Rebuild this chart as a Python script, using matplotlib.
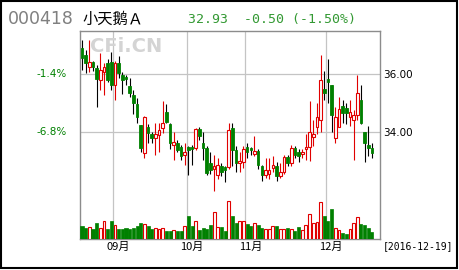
import numpy as np
import matplotlib.pyplot as plt
import matplotlib.transforms as mtransforms
from matplotlib.patches import Rectangle

# Данные: дневные свечи 小天鹅Ａ (000418), 19.08.2016 - 19.12.2016
opens = [36.88, 36.64, 36.22, 36.40, 36.20, 35.78, 36.06, 36.36, 36.40, 35.60,
         36.36, 35.95, 35.88, 35.57, 35.26, 34.95, 34.22, 33.26, 34.15, 33.90,
         33.78, 33.88, 34.12, 34.67, 34.26, 33.53, 33.60, 33.46, 33.20, 33.46,
         33.45, 33.43, 34.09, 33.60, 33.43, 32.90, 32.72, 32.50, 32.80, 32.78,
         32.78, 34.12, 33.36, 32.90, 32.95, 33.46, 33.43, 33.22, 33.33, 32.82,
         32.50, 32.53, 32.75, 32.82, 32.45, 32.60, 33.12, 32.90, 33.43, 33.30,
         33.23, 33.40, 33.46, 33.80, 34.16, 34.40, 35.47, 35.81, 35.60, 33.78,
         34.16, 34.88, 34.80, 34.50, 34.40, 34.57, 35.09, 33.98, 33.53, 33.43]
highs = [37.15, 36.81, 37.15, 36.45, 36.30, 36.70, 36.35, 36.50, 36.75, 36.45,
         36.60, 36.05, 35.95, 35.85, 35.45, 35.15, 34.22, 34.55, 34.25, 34.00,
         34.30, 34.30, 35.05, 34.95, 34.30, 34.00, 33.70, 33.55, 33.60, 33.50,
         33.55, 34.12, 34.15, 34.00, 33.50, 33.30, 33.20, 33.10, 32.90, 32.80,
         34.30, 34.30, 33.50, 33.30, 33.50, 33.60, 33.45, 33.85, 33.40, 32.85,
         33.10, 33.10, 33.15, 32.95, 32.90, 33.20, 33.20, 33.55, 33.50, 33.40,
         33.40, 33.90, 35.05, 34.40, 35.00, 36.64, 36.10, 36.50, 35.60, 34.85,
         35.20, 35.10, 35.00, 35.10, 34.75, 35.95, 35.60, 34.00, 34.20, 33.60]
lows = [36.12, 36.02, 36.05, 36.10, 34.86, 35.43, 35.26, 35.70, 35.45, 35.10,
        35.85, 35.30, 35.60, 35.20, 34.60, 34.30, 33.30, 33.10, 33.60, 33.60,
        33.20, 33.30, 33.95, 34.30, 33.40, 33.00, 33.30, 33.00, 32.85, 32.50,
        32.85, 33.35, 33.70, 33.00, 32.50, 32.55, 31.95, 32.35, 32.45, 32.25,
        32.70, 32.80, 32.60, 32.60, 32.75, 33.10, 33.20, 33.15, 32.70, 32.28,
        32.40, 32.35, 32.60, 32.30, 32.40, 32.55, 32.80, 32.80, 33.10, 32.95,
        33.10, 33.00, 32.98, 33.50, 33.90, 34.00, 35.10, 35.00, 34.00, 33.60,
        34.15, 34.30, 34.25, 34.20, 33.00, 34.40, 34.25, 32.95, 33.15, 33.10]
closes = [36.53, 36.36, 36.40, 36.22, 35.80, 36.12, 36.22, 35.78, 35.60, 36.36,
          36.02, 35.78, 35.81, 35.33, 34.98, 34.50, 33.43, 34.50, 33.95, 33.78,
          33.92, 34.05, 34.30, 34.33, 33.60, 33.64, 33.36, 33.16, 33.30, 33.36,
          33.38, 34.09, 33.85, 33.43, 32.57, 32.67, 32.82, 32.84, 32.60, 32.67,
          34.05, 33.36, 32.90, 32.98, 33.40, 33.30, 33.36, 33.33, 32.85, 32.50,
          32.67, 32.67, 32.85, 32.45, 32.62, 33.12, 32.90, 33.43, 33.19, 33.15,
          33.30, 33.46, 33.98, 33.90, 34.50, 35.78, 35.33, 35.71, 34.57, 34.50,
          34.78, 34.64, 34.64, 34.67, 34.57, 35.33, 34.30, 33.60, 33.43, 33.26]
volumes = [40, 33, 36, 30, 48, 33, 55, 31, 55, 43,
           30, 30, 32, 30, 33, 38, 48, 45, 38, 30,
           33, 30, 33, 25, 25, 26, 25, 25, 40, 68,
           38, 55, 28, 33, 30, 43, 80, 35, 35, 25,
           115, 70, 48, 53, 55, 45, 38, 48, 43, 33,
           30, 30, 40, 40, 30, 30, 33, 30, 25, 35,
           28, 43, 75, 48, 50, 111, 70, 55, 90, 33,
           28, 18, 15, 30, 48, 65, 45, 43, 33, 20]

# торговых дней в каждом месяце (авг. - только хвост)
month_days = [9, 20, 16, 22, 13]
month_names = ['09月', '10月', '11月', '12月']

red = '#e00000'
green = '#008000'
n = len(closes)
x = np.arange(n)
o = np.array(opens)
c = np.array(closes)
up = c >= o

fig = plt.figure(figsize=(4.6, 2.7), dpi=100)
ax = fig.add_axes([80 / 460, 31 / 270, 300 / 460, 208 / 270])
ax.set_xlim(-0.55, 81.2)
ax.set_ylim(30.29, 37.47)

# Объём (отдельная ось поверх нижней части)
axv = ax.twinx()
axv.set_ylim(0, 624)
axv.set_axis_off()

# Сетка: границы месяцев и уровни цены
bounds = np.cumsum(month_days)[:-1] - 0.5
ax.set_xticks(bounds, month_names)
ax.set_yticks([34, 36])
ax.yaxis.tick_right()
ax.yaxis.set_major_formatter(plt.FormatStrFormatter('%.2f'))
ax.tick_params(length=0, labelsize=7.5)
ax.tick_params(axis='y', pad=2, labelleft=False, labelright=True)
ax.tick_params(axis='x', pad=2)
ax.grid(color='#c4c4c4', linewidth=0.9)
ax.set_axisbelow(True)
for s in ax.spines.values():
    s.set_color('#8c8c8c')
    s.set_linewidth(1.0)
offset = mtransforms.ScaledTranslation(0.05, 0, fig.dpi_scale_trans)
for lbl in ax.get_xticklabels():
    lbl.set_family(['Noto Sans CJK SC', 'DejaVu Sans'])
    lbl.set_fontsize(8)
    lbl.set_transform(lbl.get_transform() + offset)

# Свечи
ax.vlines(x[up], np.array(lows)[up], np.array(highs)[up], color=red, linewidth=0.8, zorder=2)
ax.vlines(x[~up], np.array(lows)[~up], np.array(highs)[~up], color='black', linewidth=0.8, zorder=2)
body_h = np.maximum(np.abs(c - o), 0.03)
body_b = np.minimum(o, c)
ax.bar(x[up], body_h[up], bottom=body_b[up], width=0.72, facecolor='white',
       edgecolor=red, linewidth=0.8, zorder=3)
ax.bar(x[~up], body_h[~up], bottom=body_b[~up], width=0.72, facecolor=green,
       edgecolor=green, linewidth=0.6, zorder=3)

# Проценты слева
tr = mtransforms.blended_transform_factory(ax.transAxes, ax.transData)
ax.text(-0.043, 36, '-1.4%', transform=tr, ha='right', va='center', color=green, fontsize=7.5)
ax.text(-0.043, 34, '-6.8%', transform=tr, ha='right', va='center', color=green, fontsize=7.5)

v = np.array(volumes)
axv.bar(x[up], v[up], width=0.75, facecolor='white', edgecolor=red, linewidth=0.8)
axv.bar(x[~up], v[~up], width=0.85, facecolor=green, edgecolor=green, linewidth=0.5)

# Заголовок
fig.text(8 / 460, 1 - 19 / 270, '000418', color='#808080', fontsize=12.5, va='center')
fig.text(82 / 460, 1 - 19 / 270, '小天鹅Ａ', color='black', fontsize=11, va='center',
         family=['Noto Sans CJK SC', 'DejaVu Sans'])
fig.text(188 / 460, 1 - 19 / 270, '32.93  -0.50 (-1.50%)', color='#339933', fontsize=9.5,
         va='center', family='DejaVu Sans Mono')
fig.text(126 / 460, 1 - 47 / 270, 'CFi.CN', color='#d4d4d4', fontsize=14, weight='bold',
         ha='center', va='center')
fig.text(383 / 460, 1 - 246 / 270, '[2016-12-19]', color='black', fontsize=7,
         va='center', family='DejaVu Sans Mono')

# Рамка
fig.add_artist(Rectangle((0.002, 0.009), 0.9915, 0.989, transform=fig.transFigure,
                         fill=False, edgecolor='black', linewidth=1.5))

fig.savefig('out.png', dpi=100)
